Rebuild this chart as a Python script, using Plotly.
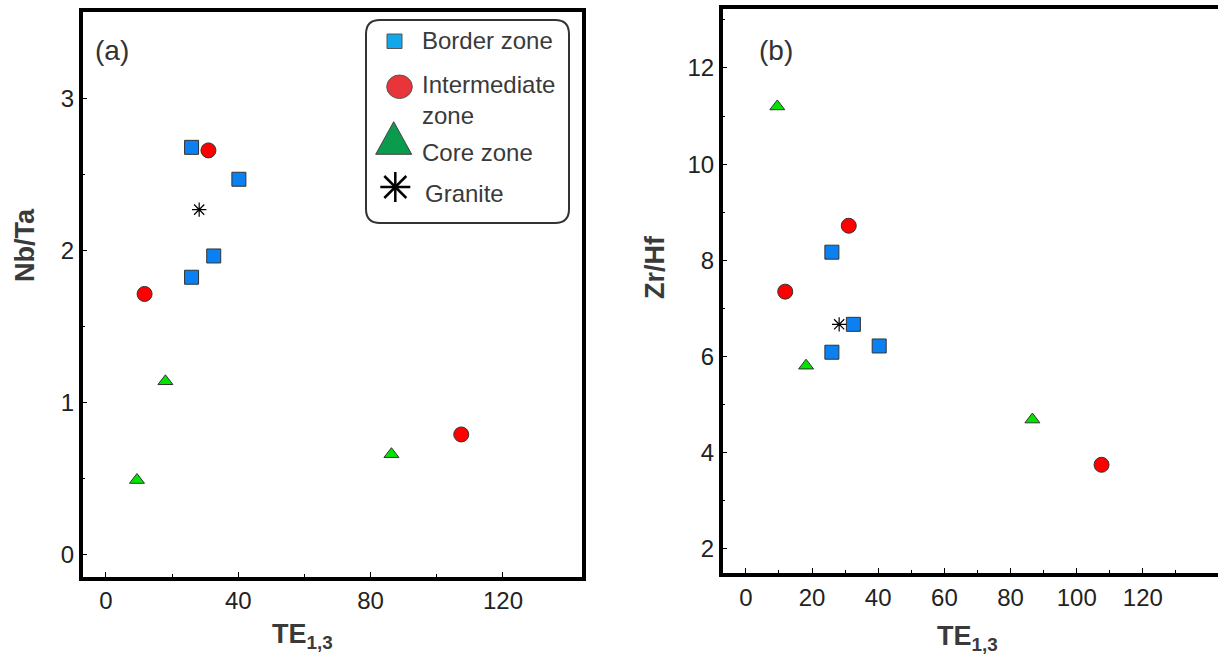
import plotly.graph_objects as go

W, H = 1218, 657

# ---------------- data ----------------
# Panel (a): Nb/Ta vs TE1,3
border_te_a = [25.9, 40.2, 32.6, 25.9]
border_nbta = [2.68, 2.47, 1.965, 1.825]
inter_te_a = [31.0, 11.7, 107.4]
inter_nbta = [2.66, 1.715, 0.79]
core_te_a = [18.0, 9.4, 86.3]
core_nbta = [1.14, 0.49, 0.66]
granite_te_a = [28.2]
granite_nbta = [2.27]

# Panel (b): Zr/Hf vs TE1,3
border_te_b = [26.0, 32.5, 40.3, 26.0]
border_zrhf = [8.17, 6.67, 6.22, 6.09]
inter_te_b = [31.1, 11.9, 107.5]
inter_zrhf = [8.72, 7.35, 3.75]
core_te_b = [18.2, 9.5, 86.6]
core_zrhf = [5.81, 11.2, 4.69]
granite_te_b = [28.2]
granite_zrhf = [6.67]

xticks_a = [0, 40, 80, 120]
xminor_a = [20, 60, 100]
yticks_a = [0, 1, 2, 3]
yminor_a = [0.5, 1.5, 2.5]
xticks_b = [0, 20, 40, 60, 80, 100, 120]
xminor_b = [10, 30, 50, 70, 90, 110, 130]
yticks_b = [2, 4, 6, 8, 10, 12]
yminor_b = [3, 5, 7, 9, 11, 13]

legend_labels = ["Border zone", "Intermediate<br>zone", "Core zone", "Granite"]

# ---------------- styles ----------------
SQ_COLOR = "#0B80F2"
CI_COLOR = "#FF0000"
TR_COLOR = "#00E400"
EDGE = "#333333"
FONT = "Liberation Sans, Arial, sans-serif"


def px(x):
    return x / W


def py(y):
    return 1 - y / H


fig = go.Figure()


def add_panel(xa, ya, bx, by, ix, iy, cx, cy, gx, gy):
    fig.add_trace(go.Scatter(x=bx, y=by, mode="markers", xaxis=xa, yaxis=ya, showlegend=False,
                             marker=dict(symbol="square", size=14, color=SQ_COLOR,
                                         line=dict(color=EDGE, width=1))))
    fig.add_trace(go.Scatter(x=ix, y=iy, mode="markers", xaxis=xa, yaxis=ya, showlegend=False,
                             marker=dict(symbol="circle", size=15, color=CI_COLOR,
                                         line=dict(color=EDGE, width=1))))
    fig.add_trace(go.Scatter(x=cx, y=cy, mode="markers", xaxis=xa, yaxis=ya, showlegend=False,
                             marker=dict(symbol="triangle-up", size=13, color=TR_COLOR,
                                         line=dict(color=EDGE, width=1))))
    fig.add_trace(go.Scatter(x=gx, y=gy, mode="markers", xaxis=xa, yaxis=ya, showlegend=False,
                             marker=dict(symbol="asterisk-open", size=12, color="black",
                                         line=dict(color="black", width=1.2))))


add_panel("x", "y", border_te_a, border_nbta, inter_te_a, inter_nbta,
          core_te_a, core_nbta, granite_te_a, granite_nbta)
add_panel("x2", "y2", border_te_b, border_zrhf, inter_te_b, inter_zrhf,
          core_te_b, core_zrhf, granite_te_b, granite_zrhf)

axis_common = dict(showgrid=False, zeroline=False, showline=True, linewidth=3.5,
                   linecolor="black", ticks="inside", ticklen=5, tickwidth=1,
                   tickcolor="black", tickfont=dict(family=FONT, size=24, color="#222222"))

fig.update_layout(
    width=W, height=H,
    margin=dict(l=0, r=0, t=0, b=0),
    plot_bgcolor="white", paper_bgcolor="white",
    font=dict(family=FONT),
    showlegend=False,
    xaxis=dict(domain=[px(82.7), px(581.7)], range=[-7, 143.8], tickvals=xticks_a,
               mirror=True, anchor="y",
               minor=dict(tickvals=xminor_a, ticks="inside", ticklen=3, tickcolor="black"),
               **axis_common),
    yaxis=dict(domain=[py(576.5), py(12)], range=[-0.145, 3.571], tickvals=yticks_a,
               mirror=True, anchor="x",
               minor=dict(tickvals=yminor_a, ticks="inside", ticklen=3, tickcolor="black"),
               **axis_common),
    xaxis2=dict(domain=[px(722.7), 1.0], range=[-7, 142.7], tickvals=xticks_b,
                mirror=True, anchor="y2",
                minor=dict(tickvals=xminor_b, ticks="inside", ticklen=3, tickcolor="black"),
                **axis_common),
    yaxis2=dict(domain=[py(573), py(9.3)], range=[1.50, 13.22], tickvals=yticks_b,
                mirror=False, anchor="x2",
                minor=dict(tickvals=yminor_b, ticks="inside", ticklen=3, tickcolor="black"),
                **axis_common),
)

ann = []
title_font = dict(family=FONT, size=27, color="#3a3a3a")
# axis titles
ann.append(dict(x=px(25), y=py(245), xref="paper", yref="paper", text="<b>Nb/Ta</b>",
                textangle=-90, showarrow=False, font=title_font, xanchor="center", yanchor="middle"))
ann.append(dict(x=px(655), y=py(267), xref="paper", yref="paper", text="<b>Zr/Hf</b>",
                textangle=-90, showarrow=False, font=title_font, xanchor="center", yanchor="middle"))
ann.append(dict(x=px(270), y=py(636), xref="paper", yref="paper", text="<b>TE<sub>1,3</sub></b>",
                showarrow=False, font=title_font, xanchor="left", yanchor="middle"))
ann.append(dict(x=px(935), y=py(638), xref="paper", yref="paper", text="<b>TE<sub>1,3</sub></b>",
                showarrow=False, font=title_font, xanchor="left", yanchor="middle"))
# panel labels
panel_font = dict(family=FONT, size=28, color="#333333")
ann.append(dict(x=px(93), y=py(50), xref="paper", yref="paper", text="(a)", showarrow=False,
                font=panel_font, xanchor="left", yanchor="middle"))
ann.append(dict(x=px(757), y=py(50), xref="paper", yref="paper", text="(b)", showarrow=False,
                font=panel_font, xanchor="left", yanchor="middle"))

# legend texts
leg_font = dict(family=FONT, size=24, color="#3a3a3a")
ann.append(dict(x=px(420), y=py(40), xref="paper", yref="paper", text=legend_labels[0],
                showarrow=False, font=leg_font, xanchor="left", yanchor="middle"))
ann.append(dict(x=px(420), y=py(100), xref="paper", yref="paper", text=legend_labels[1],
                showarrow=False, font=leg_font, xanchor="left", yanchor="middle", align="left"))
ann.append(dict(x=px(420), y=py(152), xref="paper", yref="paper", text=legend_labels[2],
                showarrow=False, font=leg_font, xanchor="left", yanchor="middle"))
ann.append(dict(x=px(423), y=py(193), xref="paper", yref="paper", text=legend_labels[3],
                showarrow=False, font=leg_font, xanchor="left", yanchor="middle"))
fig.update_layout(annotations=ann)

# legend glyphs and box (paper coordinates)
shapes = []


def rounded_rect(x0, y0, x1, y1, r):
    X0, X1 = px(x0), px(x1)
    Y0, Y1 = py(y0), py(y1)
    rx, ry = r / W, r / H
    return (f"M {X0+rx},{Y0} L {X1-rx},{Y0} Q {X1},{Y0} {X1},{Y0-ry} "
            f"L {X1},{Y1+ry} Q {X1},{Y1} {X1-rx},{Y1} L {X0+rx},{Y1} "
            f"Q {X0},{Y1} {X0},{Y1+ry} L {X0},{Y0-ry} Q {X0},{Y0} {X0+rx},{Y0} Z")


shapes.append(dict(type="path", xref="paper", yref="paper",
                   path=rounded_rect(366, 20, 569, 223, 14),
                   line=dict(color="#333333", width=2), fillcolor="rgba(0,0,0,0)"))
# square
shapes.append(dict(type="rect", xref="paper", yref="paper", x0=px(387), x1=px(402), y0=py(48.5), y1=py(34),
                   fillcolor="#12A6EA", line=dict(color="#555555", width=1)))
# circle
shapes.append(dict(type="circle", xref="paper", yref="paper", x0=px(386.7), x1=px(412.3),
                   y0=py(98.5), y1=py(75), fillcolor="#E8343B", line=dict(color="#555555", width=1)))
# triangle
shapes.append(dict(type="path", xref="paper", yref="paper",
                   path=f"M {px(375.7)},{py(154.3)} L {px(411.7)},{py(154.3)} L {px(393.7)},{py(121.7)} Z",
                   fillcolor="#0A9B4E", line=dict(color="#444444", width=1)))
# asterisk
cxp, cyp, hs = 395.3, 187, 15
for (dx0, dy0, dx1, dy1) in [(0, -hs, 0, hs), (-hs, 0, hs, 0),
                             (-11, -11, 11, 11), (-11, 11, 11, -11)]:
    shapes.append(dict(type="line", xref="paper", yref="paper",
                       x0=px(cxp + dx0), y0=py(cyp + dy0), x1=px(cxp + dx1), y1=py(cyp + dy1),
                       line=dict(color="black", width=2.5)))
fig.update_layout(shapes=shapes)

fig.write_html("out.html")
